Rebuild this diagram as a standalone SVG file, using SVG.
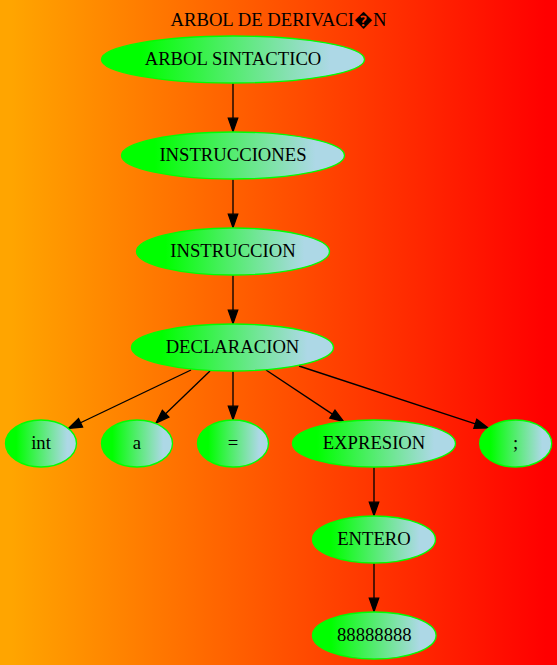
<svg xmlns="http://www.w3.org/2000/svg" width="557" height="665" viewBox="0 0 557 665">
<style>
  .node ellipse { fill: url(#ng); stroke: #00ff00; stroke-width: 1.33; }
  .node text, .title { font-family: "Liberation Serif", "Times New Roman", serif; font-size: 18.67px; fill: #000; text-anchor: middle; }
  .edges path { fill: none; stroke: #000; stroke-width: 1.33; marker-end: url(#ah); }
</style>
<defs>
  <linearGradient id="bg" x1="0" y1="0" x2="1" y2="0">
    <stop offset="0.02" stop-color="#ffa500"/>
    <stop offset="0.98" stop-color="#ff0000"/>
  </linearGradient>
  <linearGradient id="ng" x1="0" y1="0" x2="1" y2="0">
    <stop offset="0.15" stop-color="#00ff00"/>
    <stop offset="0.87" stop-color="#add8e6"/>
  </linearGradient>
  <marker id="ah" markerUnits="userSpaceOnUse" markerWidth="14" markerHeight="10" refX="0" refY="0" orient="auto" overflow="visible">
    <path d="M0,-4.67 L13.33,0 L0,4.67 z" fill="#000" stroke="#000" stroke-width="1.33"/>
  </marker>
</defs>
<rect x="0" y="0" width="557" height="665" fill="url(#bg)"/>
<text class="title" x="278.5" y="26">ARBOL DE DERIVACI&#xFFFD;N</text>

<g id="edges" class="edges">
  <path d="M233,83.5 L233,118.2"/>
  <path d="M233,179.5 L233,214.2"/>
  <path d="M233,275.5 L233,310.2"/>
  <path d="M191,370 L80.53,422.76"/>
  <path d="M210,371 L165.6,413.75"/>
  <path d="M233,371.5 L233,406.2"/>
  <path d="M266,370 L332.4,414.12"/>
  <path d="M299,366 L475.33,423.84"/>
  <path d="M374,467.5 L374,502.2"/>
  <path d="M374,563.5 L374,598.2"/>
</g>

<g id="n_arbol" class="node"><ellipse cx="233" cy="59.5" rx="131.5" ry="23.5"/><text x="233" y="65">ARBOL SINTACTICO</text></g>
<g id="n_instrucciones" class="node"><ellipse cx="233" cy="155.5" rx="111.5" ry="23.5"/><text x="233" y="161">INSTRUCCIONES</text></g>
<g id="n_instruccion" class="node"><ellipse cx="233" cy="251.5" rx="96.5" ry="23.5"/><text x="233" y="257">INSTRUCCION</text></g>
<g id="n_declaracion" class="node"><ellipse cx="232.5" cy="347.5" rx="101" ry="23.5"/><text x="232.5" y="353">DECLARACION</text></g>
<g id="n_int" class="node"><ellipse cx="41" cy="443.5" rx="35.5" ry="23.5"/><text x="41" y="449">int</text></g>
<g id="n_a" class="node"><ellipse cx="137" cy="443.5" rx="35.5" ry="23.5"/><text x="137" y="449">a</text></g>
<g id="n_eq" class="node"><ellipse cx="233" cy="443.5" rx="35.5" ry="23.5"/><text x="233" y="449">=</text></g>
<g id="n_expresion" class="node"><ellipse cx="374" cy="443.5" rx="81.5" ry="23.5"/><text x="374" y="449">EXPRESION</text></g>
<g id="n_semi" class="node"><ellipse cx="515.7" cy="443.5" rx="36" ry="23.5"/><text x="515.7" y="449">;</text></g>
<g id="n_entero" class="node"><ellipse cx="374" cy="539.5" rx="61.5" ry="23.5"/><text x="374" y="545">ENTERO</text></g>
<g id="n_num" class="node"><ellipse cx="374.3" cy="635.5" rx="61.8" ry="23.5"/><text x="374.3" y="641">88888888</text></g>
</svg>
